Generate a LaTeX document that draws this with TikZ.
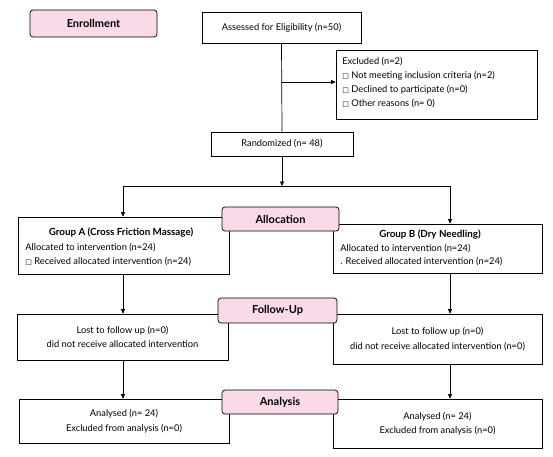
\documentclass[tikz,border=0pt]{standalone}
\usepackage{fontspec}
\setmainfont{Lato}
\newfontfamily\symfont{DejaVu Sans}
\usetikzlibrary{arrows.meta}
\definecolor{pinkfill}{RGB}{250,217,232}
\newcommand{\cbox}{{\symfont\fontsize{7}{7}\selectfont □}}
\begin{document}
\begin{tikzpicture}[x=1pt,y=-1pt,
  line width=0.7pt,
  box/.style={draw, fill=white, inner sep=0pt, align=center, font=\fontsize{9.3}{14.5}\selectfont},
  phase/.style={draw, fill=pinkfill, rounded corners=3pt, inner sep=0pt, font=\bfseries\fontsize{11}{12}\selectfont},
  txt/.style={inner sep=0pt, font=\fontsize{9.3}{14}\selectfont},
  ttl/.style={inner sep=0pt, font=\bfseries\fontsize{9.8}{11}\selectfont},
  arr/.style={-{Triangle[length=4.5pt,width=4pt]}}]
\useasboundingbox (0,0) rectangle (553,456);
% boxes
\node[box, minimum width=159pt, minimum height=31pt] (assess) at (281.5,27.5) {Assessed for Eligibility (n=50)};
\node[box, minimum width=201pt, minimum height=69pt] (excl) at (436.5,84.5) {};
\node[txt, anchor=north west, align=left] (excltxt) at (342,57) {Excluded (n=2)\\ \cbox\ Not meeting inclusion criteria (n=2)\\ \cbox\ Declined to participate (n=0)\\ \cbox\ Other reasons (n= 0)};
\node[box, minimum width=142pt, minimum height=24pt] (rand) at (282,144) {Randomized (n= 48)};
\node[box, minimum width=211pt, minimum height=57pt] (gA) at (123.5,245.5) {};
\node[ttl] (gAt) at (121,233) {Group A (Cross Friction Massage)};
\node[txt, anchor=west] (gA1) at (25,248) {Allocated to intervention (n=24)};
\node[txt, anchor=west] (gA2) at (25,262) {\cbox\ Received allocated intervention (n=24)};
\node[box, minimum width=209pt, minimum height=49pt] (gB) at (437.5,248.5) {};
\node[ttl] (gBt) at (430,235) {Group B (Dry Needling)};
\node[txt, anchor=west] (gB1) at (340,249) {Allocated to intervention (n=24)};
\node[txt, anchor=west] (gB2) at (340,262) {. Received allocated intervention (n=24)};
\node[box, minimum width=211pt, minimum height=46pt] (fuL) at (122.5,337) {Lost to follow up (n=0)\\did not receive allocated intervention};
\node[box, minimum width=209pt, minimum height=50pt] (fuR) at (437.5,339) {Lost to follow up (n=0)\\did not receive allocated intervention (n=0)};
\node[box, minimum width=210pt, minimum height=44pt] (anL) at (124,421) {Analysed (n= 24)\\Excluded from analysis (n=0)};
\node[box, minimum width=209pt, minimum height=49pt] (anR) at (437.5,423.5) {Analysed (n= 24)\\Excluded from analysis (n=0)};
% phase labels
\node[phase, minimum width=127pt, minimum height=27pt] (enroll) at (93.5,23.5) {Enrollment};
\node[phase, minimum width=117pt, minimum height=24pt] (alloc) at (280.5,219) {Allocation};
\node[phase, minimum width=119pt, minimum height=25pt] (fu) at (277.5,310.5) {Follow-Up};
\node[phase, minimum width=116pt, minimum height=24pt] (an) at (280,402) {Analysis};
% connectors
\coordinate (j1) at (282,82);
\coordinate (j2) at (282,186);
\coordinate (jl) at (123,186);
\coordinate (jr) at (450,186);
\draw (assess.south) -- (rand.north);
\draw[arr] (j1) -- (j1 -| excl.west);
\draw[arr] (rand.south) -- (j2);
\draw (jl) -- (jr);
\draw[arr] (jl) -- (jl |- gA.north);
\draw[arr] (jr) -- (jr |- gB.north);
\draw[arr] (gA.south -| jl) -- (jl |- fuL.north);
\draw[arr] (gB.south -| jr) -- (jr |- fuR.north);
\draw[arr] (fuL.south -| jl) -- (jl |- anL.north);
\draw[arr] (fuR.south -| jr) -- (jr |- anR.north);
\end{tikzpicture}
\end{document}
